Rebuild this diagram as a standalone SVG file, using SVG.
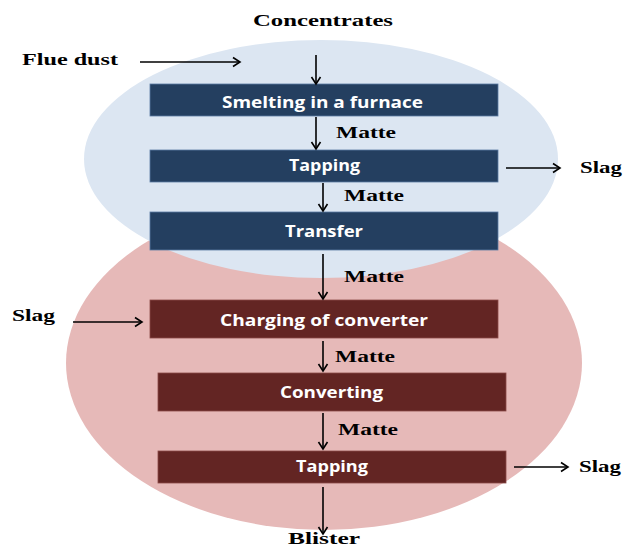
<svg xmlns="http://www.w3.org/2000/svg" width="624" height="547" viewBox="0 0 624 547">
<style>
.lbl{font-family:"Liberation Serif","DejaVu Serif",serif;font-weight:bold;font-size:17px;fill:#000}
.bt{font-family:"Open Sans","Liberation Sans",sans-serif;font-weight:bold;font-size:16px;fill:#fff}
.blue{fill:#243F60;stroke:#5b7ba3;stroke-width:0.8}
.red{fill:#632523;stroke:#8a4a48;stroke-width:0.8}
.ar{stroke:#000;stroke-width:1.6;fill:none;marker-end:url(#ah)}
</style>
<defs>
<marker id="ah" markerWidth="12" markerHeight="12" refX="9" refY="6" orient="auto" markerUnits="userSpaceOnUse">
<polyline points="2,1.5 9,6 2,10.5" fill="none" stroke="#000" stroke-width="1.6"/>
</marker>
</defs>
<rect width="624" height="547" fill="#fff"/>
<ellipse id="stage2" cx="324" cy="363" rx="258" ry="167" fill="#E6B9B8"/>
<ellipse id="stage1" cx="321" cy="159" rx="237" ry="119" fill="#DCE6F2"/>

<g id="n1"><rect class="blue" x="150" y="84" width="348" height="32"/><text class="bt" x="222" y="108" textLength="201" lengthAdjust="spacingAndGlyphs">Smelting in a furnace</text></g>
<g id="n2"><rect class="blue" x="150" y="150" width="348" height="32"/><text class="bt" x="289" y="171" textLength="71" lengthAdjust="spacingAndGlyphs">Tapping</text></g>
<g id="n3"><rect class="blue" x="150" y="212" width="348" height="38"/><text class="bt" x="285" y="237" textLength="78" lengthAdjust="spacingAndGlyphs">Transfer</text></g>
<g id="n4"><rect class="red" x="150" y="300" width="348" height="38"/><text class="bt" x="220" y="326" textLength="208" lengthAdjust="spacingAndGlyphs">Charging of converter</text></g>
<g id="n5"><rect class="red" x="158" y="373" width="348" height="38"/><text class="bt" x="280" y="398" textLength="103" lengthAdjust="spacingAndGlyphs">Converting</text></g>
<g id="n6"><rect class="red" x="158" y="451" width="348" height="32"/><text class="bt" x="296" y="472" textLength="72" lengthAdjust="spacingAndGlyphs">Tapping</text></g>

<g id="labels">
<text class="lbl" x="253" y="26" textLength="140" lengthAdjust="spacingAndGlyphs">Concentrates</text>
<text class="lbl" x="22" y="65" textLength="96" lengthAdjust="spacingAndGlyphs">Flue dust</text>
<text class="lbl" x="580" y="173" textLength="42" lengthAdjust="spacingAndGlyphs">Slag</text>
<text class="lbl" x="12" y="321" textLength="43" lengthAdjust="spacingAndGlyphs">Slag</text>
<text class="lbl" x="579" y="472" textLength="42" lengthAdjust="spacingAndGlyphs">Slag</text>
<text class="lbl" x="288" y="544" textLength="72" lengthAdjust="spacingAndGlyphs">Blister</text>
<text class="lbl" x="336" y="138" textLength="60" lengthAdjust="spacingAndGlyphs">Matte</text>
<text class="lbl" x="344" y="201" textLength="60" lengthAdjust="spacingAndGlyphs">Matte</text>
<text class="lbl" x="344" y="282" textLength="60" lengthAdjust="spacingAndGlyphs">Matte</text>
<text class="lbl" x="335" y="362" textLength="60" lengthAdjust="spacingAndGlyphs">Matte</text>
<text class="lbl" x="338" y="435" textLength="60" lengthAdjust="spacingAndGlyphs">Matte</text>
</g>

<g id="connectors">
<line class="ar" x1="140" y1="62" x2="240" y2="62"/>
<line class="ar" x1="316" y1="55" x2="316" y2="84"/>
<line class="ar" x1="316" y1="117" x2="316" y2="149"/>
<line class="ar" x1="506" y1="168" x2="560" y2="168"/>
<line class="ar" x1="323" y1="183" x2="323" y2="211"/>
<line class="ar" x1="323" y1="254" x2="323" y2="299"/>
<line class="ar" x1="73" y1="322" x2="142" y2="322"/>
<line class="ar" x1="323" y1="341" x2="323" y2="371"/>
<line class="ar" x1="323" y1="413" x2="323" y2="449"/>
<line class="ar" x1="514" y1="467" x2="568" y2="467"/>
<line class="ar" x1="323" y1="487" x2="323" y2="534"/>
</g>
</svg>
